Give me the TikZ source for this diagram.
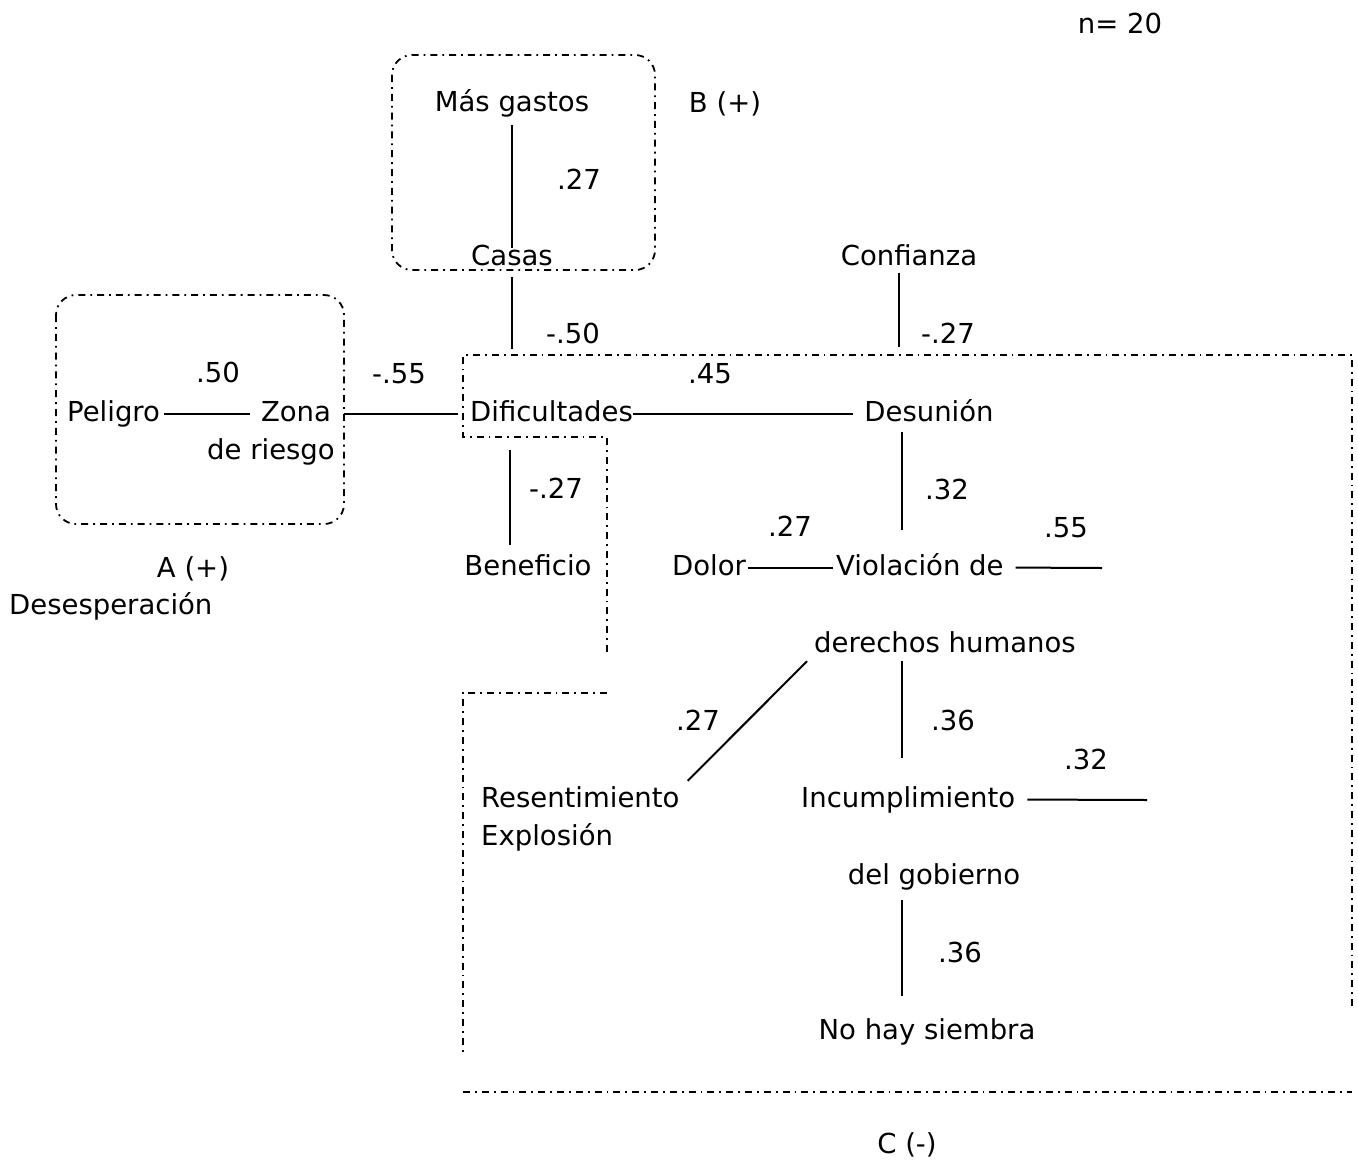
\documentclass[tikz,border=0pt]{standalone}
\usepackage{fontspec}
\setmainfont{DejaVu Sans}
\begin{document}
\begin{tikzpicture}[x=1pt,y=-1pt,
  every node/.style={font=\fontsize{27.5pt}{33pt}\selectfont, inner sep=0pt, text height=21pt, text depth=6pt},
  lbl/.style={anchor=base},
  lblw/.style={anchor=base west},
  conn/.style={line width=2pt, black},
  region/.style={line width=1.8pt, dash pattern=on 7pt off 5pt on 1.8pt off 5pt, line cap=butt},
]
\useasboundingbox (0,0) rectangle (1358,1160);
% regions
\draw[region, rounded corners=20pt] (392,55) rectangle (655,270);
\draw[region, rounded corners=20pt] (56,295) rectangle (344,524);
\draw[region] (607,652) -- (607,437) -- (463,437) -- (463,355) -- (1352,355) -- (1352,1008);
\draw[region] (607,693) -- (463,693) -- (463,1052);
\draw[region] (463,1092) -- (1352,1092);

% nodes
\node[lbl] (n) at (1120,33) {n= 20};
\node[lbl] (masgastos) at (512,111) {Más gastos};
\node[lbl] (B) at (725,112) {B (+)};
\node[lbl] (l1) at (579,189) {.27};
\node[lbl] (casas) at (512,265) {Casas};
\node[lbl] (confianza) at (909,265) {Confianza};
\node[lbl] (l2) at (573,343) {-.50};
\node[lbl] (l3) at (948,343) {-.27};
\node[lbl] (l4) at (218,382) {.50};
\node[lblw] (peligro) at (67,421) {Peligro};
\node[lbl] (zona) at (296,421) {Zona};
\node[anchor=base east] (riesgo) at (335,459) {de riesgo};
\node[lbl] (l5) at (399,383) {-.55};
\node[lblw] (dificultades) at (470,421) {Dificultades};
\node[lbl] (l6) at (710,383) {.45};
\node[lbl] (desunion) at (929,421) {Desunión};
\node[lbl] (l7) at (947,499) {.32};
\node[lbl] (l8) at (556,498) {-.27};
\node[lbl] (beneficio) at (528,575) {Beneficio};
\node[lbl] (dolor) at (709,575) {Dolor};
\node[lbl] (l9) at (790,536) {.27};
\node[lblw] (violacion) at (836,575) {Violación de};
\node[lbl] (l10) at (1066,537) {.55};
\node[lbl] (derechos) at (945,652) {derechos humanos};
\node[lbl] (l11) at (698,730) {.27};
\node[lbl] (l12) at (953,730) {.36};
\node[lblw] (resent) at (481,807) {Resentimiento};
\node[lblw] (explosion) at (481,845) {Explosión};
\node[lblw] (incump) at (801,807) {Incumplimiento};
\node[lbl] (l13) at (1086,769) {.32};
\node[lbl] (gobierno) at (934,884) {del gobierno};
\node[lbl] (l14) at (960,962) {.36};
\node[lbl] (siembra) at (927,1039) {No hay siembra};
\node[lbl] (A) at (193,577) {A (+)};
\node[lblw] (desesp) at (9,614) {Desesperación};
\node[lbl] (C) at (907,1153) {C (-)};

\coordinate (vend) at (1102,568);
\coordinate (iend) at (1147,800);

% connectors
\draw[conn, shorten <=8pt, shorten >=-4pt] (masgastos.south) -- (casas.north);
\draw[conn, shorten <=6pt, shorten >=51pt] (casas.south) -- (casas.south |- dificultades.north);
\draw[conn, shorten <=2pt, shorten >=53pt] ([xshift=-10pt]confianza.south) -- ([xshift=-10pt]confianza.south |- desunion.north);
\draw[conn, shorten <=4pt, shorten >=11pt] (peligro.east) -- (zona.west |- peligro.east);
\draw[conn, shorten <=13pt, shorten >=12pt] (zona.east) -- (dificultades.west |- zona.east);
\draw[conn, shorten >=11pt] (dificultades.east) -- (desunion.west |- dificultades.east);
\draw[conn, shorten <=5pt, shorten >=24pt] ([xshift=-27pt]desunion.south) -- ([xshift=-27pt]desunion.south |- violacion.north);
\draw[conn, shorten <=23pt, shorten >=9pt] ([xshift=-18pt]beneficio.north |- dificultades.south) -- ([xshift=-18pt]beneficio.north);
\draw[conn, shorten <=2pt, shorten >=3pt] (dolor.east) -- (violacion.west |- dolor.east);
\draw[conn, shorten <=12pt] (violacion.east) -- (vend);
\draw[conn] ([xshift=-7pt,yshift=-3pt]derechos.south west) -- ([xshift=8pt,yshift=5pt]resent.north east);
\draw[conn, shorten <=3pt, shorten >=28pt] ([xshift=-43pt]derechos.south) -- ([xshift=-43pt]derechos.south |- incump.north);
\draw[conn, shorten <=12pt] (incump.east) -- (iend);
\draw[conn, shorten <=10pt, shorten >=22pt] ([xshift=-32pt]gobierno.south) -- ([xshift=-32pt]gobierno.south |- siembra.north);
\end{tikzpicture}
\end{document}
